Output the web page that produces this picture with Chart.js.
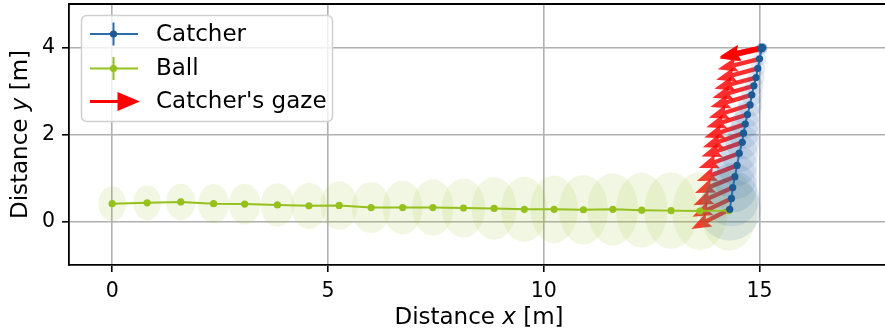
<!DOCTYPE html>
<html><head><meta charset="utf-8">
<script src="https://cdn.jsdelivr.net/npm/chart.js@4.4.1/dist/chart.umd.min.js"></script>
<style>
html,body{margin:0;padding:0;overflow:hidden;background:#fff;width:885px;height:336px}
#wrap{width:893px;height:336px}
</style></head><body>
<div id="wrap"><canvas id="c" width="893" height="336"></canvas></div>
<script>
// ---- data ----
const ballX = [0, 0.81, 1.59, 2.35, 3.07, 3.83, 4.56, 5.26, 6.0, 6.73, 7.43, 8.14, 8.85, 9.55, 10.24, 10.92, 11.6, 12.27, 12.95, 13.62, 14.29];
const ballY = [0.41, 0.43, 0.45, 0.41, 0.40, 0.38, 0.36, 0.37, 0.32, 0.32, 0.32, 0.31, 0.30, 0.28, 0.28, 0.27, 0.28, 0.26, 0.25, 0.24, 0.25];
const ballRx = [0.32, 0.32, 0.34, 0.36, 0.37, 0.39, 0.41, 0.43, 0.45, 0.46, 0.48, 0.50, 0.52, 0.54, 0.55, 0.57, 0.59, 0.60, 0.62, 0.64, 0.66];
const ballRy = [0.40, 0.40, 0.42, 0.45, 0.47, 0.50, 0.53, 0.56, 0.59, 0.62, 0.65, 0.68, 0.72, 0.75, 0.78, 0.80, 0.83, 0.86, 0.88, 0.90, 0.92];

const catcherX = [15.06, 15.06, 15.06, 15.05, 15.05, 15.0, 14.96, 14.92, 14.87, 14.82, 14.78, 14.72, 14.67, 14.63, 14.6, 14.53, 14.48, 14.43, 14.38, 14.35, 14.31];
const catcherY = [4.0, 4.0, 3.99, 3.98, 3.97, 3.74, 3.52, 3.31, 3.12, 2.91, 2.68, 2.46, 2.24, 2.03, 1.82, 1.57, 1.29, 1.03, 0.78, 0.53, 0.28];
const catcherR = [0.11, 0.11, 0.12, 0.13, 0.14, 0.16, 0.18, 0.20, 0.22, 0.25, 0.28, 0.30, 0.33, 0.36, 0.39, 0.43, 0.47, 0.52, 0.57, 0.64, 0.72];

// gaze: angle below the leftward horizontal (degrees), arrow length in metres
const gazeAngle = [12, 12, 13, 13, 13, 14, 15, 15, 16, 16, 17, 17, 18, 19, 19, 20, 21, 22, 24, 25, 27];
const gazeLength = 1.0;

const xTicks = [0, 5, 10, 15];
const yTicks = [0, 2, 4];

// ---- styles ----
const FONT = '"DejaVu Sans", sans-serif';
const catcherLine = '#2b6cab', catcherDot = '#1d5a94';
const ballCol = '#94c11c';

const pts = (xs, ys) => xs.map((x, i) => ({x, y: ys[i]}));

const underlay = {
  id: 'underlay',
  beforeDatasetsDraw(chart) {
    const {ctx, chartArea: a, scales: {x: xs, y: ys}} = chart;
    ctx.save();
    ctx.beginPath(); ctx.rect(a.left, a.top, a.right - a.left, a.bottom - a.top); ctx.clip();
    // gaze arrows
    ctx.fillStyle = 'rgba(255,0,0,0.82)';
    const sw = 4.4, hw = 15, hl = 20, hal = 17.5;
    for (let i = 0; i < catcherX.length; i++) {
      const r = gazeAngle[i] * Math.PI / 180;
      const x0 = xs.getPixelForValue(catcherX[i]), y0 = ys.getPixelForValue(catcherY[i]);
      const x1 = xs.getPixelForValue(catcherX[i] - gazeLength * Math.cos(r));
      const y1 = ys.getPixelForValue(catcherY[i] - gazeLength * Math.sin(r));
      const L = Math.hypot(x1 - x0, y1 - y0), ux = (x1 - x0) / L, uy = (y1 - y0) / L;
      const nx = -uy, ny = ux;
      const P = (s, t) => [x0 + ux * s + nx * t, y0 + uy * s + ny * t];
      const poly = [P(0, -sw / 2), P(L - hal, -sw / 2), P(L - hl, -hw / 2), P(L, 0), P(L - hl, hw / 2), P(L - hal, sw / 2), P(0, sw / 2)];
      ctx.beginPath();
      poly.forEach((p, k) => k ? ctx.lineTo(p[0], p[1]) : ctx.moveTo(p[0], p[1]));
      ctx.closePath(); ctx.fill();
    }
    // ball uncertainty
    ctx.fillStyle = 'rgba(148,193,28,0.12)';
    for (let i = 0; i < ballX.length; i++) {
      const cx = xs.getPixelForValue(ballX[i]), cy = ys.getPixelForValue(ballY[i]);
      const rx = Math.abs(xs.getPixelForValue(ballX[i] + ballRx[i]) - cx);
      const ry = Math.abs(ys.getPixelForValue(ballY[i] + ballRy[i]) - cy);
      ctx.beginPath(); ctx.ellipse(cx, cy, rx, ry, 0, 0, Math.PI * 2); ctx.fill();
    }
    // catcher uncertainty
    ctx.fillStyle = 'rgba(31,92,153,0.12)';
    for (let i = 0; i < catcherX.length; i++) {
      const cx = xs.getPixelForValue(catcherX[i]), cy = ys.getPixelForValue(catcherY[i]);
      const rx = Math.abs(xs.getPixelForValue(catcherX[i] + catcherR[i]) - cx);
      const ry = Math.abs(ys.getPixelForValue(catcherY[i] + catcherR[i]) - cy);
      ctx.beginPath(); ctx.ellipse(cx, cy, rx, ry, 0, 0, Math.PI * 2); ctx.fill();
    }
    ctx.restore();
  }
};

function drawMixed(ctx, parts, cx, cy, size) {
  const widths = parts.map(p => { ctx.font = (p[1] ? 'italic ' : '') + size + 'px ' + FONT; return ctx.measureText(p[0]).width; });
  const total = widths.reduce((a, b) => a + b, 0);
  let x = cx - total / 2;
  ctx.textAlign = 'left'; ctx.textBaseline = 'middle'; ctx.fillStyle = '#000';
  parts.forEach((p, k) => { ctx.font = (p[1] ? 'italic ' : '') + size + 'px ' + FONT; ctx.fillText(p[0], x, cy); x += widths[k]; });
}

const overlay = {
  id: 'overlay',
  afterDraw(chart) {
    const {ctx, chartArea: a} = chart;
    ctx.save();
    // top spine
    ctx.strokeStyle = '#000'; ctx.lineWidth = 1.8;
    ctx.beginPath(); ctx.moveTo(a.left - 0.9, a.top); ctx.lineTo(a.right, a.top); ctx.stroke();
    // axis titles
    drawMixed(ctx, [['Distance ', false], ['x', true], [' [m]', false]], (a.left + a.right) / 2, 318, 23);
    ctx.save(); ctx.translate(21, (a.top + a.bottom) / 2); ctx.rotate(-Math.PI / 2);
    drawMixed(ctx, [['Distance ', false], ['y', true], [' [m]', false]], 0, 0, 23);
    ctx.restore();
    // legend
    const bx = 81.5, by = 15.5, bw = 251, bh = 106, rr = 5;
    ctx.beginPath(); ctx.roundRect(bx, by, bw, bh, rr);
    ctx.fillStyle = 'rgba(255,255,255,0.8)'; ctx.fill();
    ctx.strokeStyle = '#d0d0d0'; ctx.lineWidth = 1.5; ctx.stroke();
    const rows = [34, 68.5, 101.5];
    const hx0 = 90, hx1 = 138, hm = 113.5;
    // catcher
    ctx.strokeStyle = catcherLine; ctx.lineWidth = 2;
    ctx.beginPath(); ctx.moveTo(hx0, rows[0]); ctx.lineTo(hx1, rows[0]); ctx.moveTo(hm, rows[0] - 11.5); ctx.lineTo(hm, rows[0] + 11.5); ctx.stroke();
    ctx.fillStyle = catcherDot; ctx.beginPath(); ctx.arc(hm, rows[0], 3.6, 0, Math.PI * 2); ctx.fill();
    // ball
    ctx.strokeStyle = ballCol;
    ctx.beginPath(); ctx.moveTo(hx0, rows[1]); ctx.lineTo(hx1, rows[1]); ctx.moveTo(hm, rows[1] - 11.5); ctx.lineTo(hm, rows[1] + 11.5); ctx.stroke();
    ctx.fillStyle = ballCol; ctx.beginPath(); ctx.arc(hm, rows[1], 3.6, 0, Math.PI * 2); ctx.fill();
    // gaze arrow
    ctx.fillStyle = '#ff0000';
    ctx.fillRect(hx0, rows[2] - 1.5, 29, 3);
    ctx.beginPath(); ctx.moveTo(117.5, rows[2] - 9.5); ctx.lineTo(140, rows[2]); ctx.lineTo(117.5, rows[2] + 9.5); ctx.closePath(); ctx.fill();
    // labels
    ctx.fillStyle = '#000'; ctx.font = '23px ' + FONT; ctx.textAlign = 'left'; ctx.textBaseline = 'middle';
    ctx.fillText('Catcher', 156, rows[0] + 1);
    ctx.fillText('Ball', 156, rows[1] + 1);
    ctx.fillText("Catcher's gaze", 156, rows[2] + 1);
    ctx.restore();
  }
};

const axisCommon = (ticks, fit) => ({
  type: 'linear',
  afterBuildTicks: s => { s.ticks = ticks.map(v => ({value: v})); },
  afterFit: s => { fit(s); s.paddingTop = 0; s.paddingBottom = 0; s.paddingLeft = 0; s.paddingRight = 0; },
  ticks: {font: {family: FONT, size: 20.5}, color: '#000', padding: 7},
  grid: {color: '#b0b0b0', lineWidth: 1.6, tickColor: '#000', tickLength: 7, tickWidth: 1.6, drawTicks: true},
  border: {color: '#000', width: 1.8}
});

new Chart(document.getElementById('c'), {
  type: 'scatter',
  data: {
    datasets: [
      {label: 'Catcher', data: pts(catcherX, catcherY), showLine: true, borderColor: catcherLine, borderWidth: 2,
       pointRadius: 3.6, pointBackgroundColor: catcherDot, pointBorderWidth: 0},
      {label: 'Ball', data: pts(ballX, ballY), showLine: true, borderColor: ballCol, borderWidth: 2,
       pointRadius: 3.6, pointBackgroundColor: ballCol, pointBorderWidth: 0}
    ]
  },
  options: {
    responsive: false, animation: false, devicePixelRatio: 1,
    layout: {padding: {top: 4, left: 0, right: 0, bottom: 0}},
    plugins: {legend: {display: false}, tooltip: {enabled: false}},
    scales: {
      x: Object.assign(axisCommon(xTicks, s => { s.height = 71; }), {min: -1, max: 18}),
      y: Object.assign(axisCommon(yTicks, s => { s.width = 69; }), {min: -1, max: 5})
    }
  },
  plugins: [underlay, overlay]
});
</script>
</body></html>
